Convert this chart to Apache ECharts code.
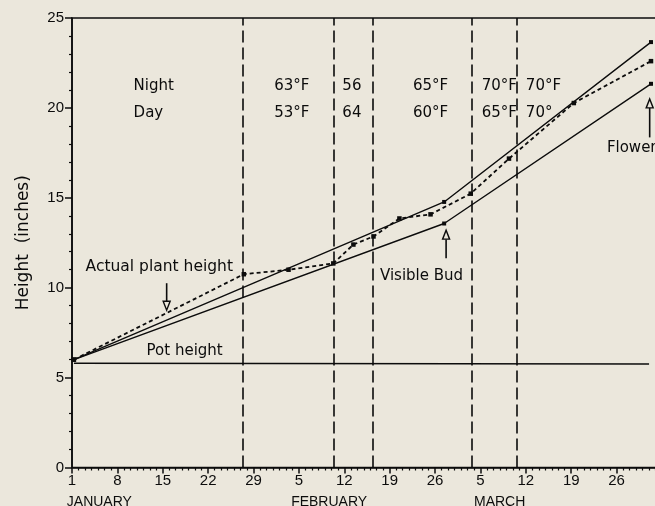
<!DOCTYPE html>
<html>
<head>
<meta charset="utf-8">
<script src="https://cdn.jsdelivr.net/npm/echarts@6/dist/echarts.min.js"></script>
<style>
  html, body { margin: 0; padding: 0; background: #ebe7dc; overflow: hidden; }
  /* the original figure is cropped on the right, so the chart runs past the window */
  #chart { width: 665px; height: 506px; }
</style>
</head>
<body>
<div id="chart"></div>
<script>
// x values are days counted from January 1 (day 0)
var tickDays = [0, 7, 14, 21, 28, 35, 42, 49, 56, 63, 70, 77, 84];
var tickLabels = ['1', '8', '15', '22', '29', '5', '12', '19', '26', '5', '12', '19', '26'];
var monthNames = ['JANUARY', 'FEBRUARY', 'MARCH'];
var monthDays = [-0.8, 33.8, 62];

var actualDays = [0.3, 26.5, 33.4, 40.3, 43.4, 46.5, 50.5, 55.3, 61.5, 67.4, 77.4, 89.3];
var actualHeight = [6.0, 10.75, 11.0, 11.35, 12.4, 12.85, 13.85, 14.08, 15.23, 17.18, 20.27, 22.6];
var upperDays = [0.3, 57.4, 89.3];
var upperHeight = [6.0, 14.77, 23.66];
var lowerDays = [0.3, 57.4, 89.3];
var lowerHeight = [6.0, 13.57, 21.34];
var potDays = [0.3, 89];
var potHeight = [5.8, 5.75];

// temperature regime changes
var changeDays = [26.4, 40.4, 46.4, 61.6, 68.6];
var tempLabelDays = [9.5, 31.2, 41.7, 52.6, 63.2, 70.0];
var nightTemps = ['Night', '63°F', '56', '65°F', '70°F', '70°F'];
var dayTemps = ['Day', '53°F', '64', '60°F', '65°F', '70°'];

var ink = '#0c0c0c';
var paper = '#ebe7dc';

function pairs(xs, ys) {
  return xs.map(function (x, i) { return [x, ys[i]]; });
}

var chart = echarts.init(document.getElementById('chart'));

chart.setOption({
  backgroundColor: paper,
  animation: false,
  grid: {
    left: 72, right: 1.5, top: 18, bottom: 38.5,
    show: true, borderColor: ink, borderWidth: 1.5, backgroundColor: 'transparent'
  },
  xAxis: {
    type: 'value', min: 0, max: 91, interval: 7,
    axisLine: { lineStyle: { color: ink, width: 1.6 } },
    axisTick: { length: 6, lineStyle: { color: ink, width: 1.5 } },
    minorTick: { show: true, splitNumber: 7, length: 3, lineStyle: { color: ink, width: 1.2 } },
    splitLine: { show: false },
    axisLabel: {
      color: ink, fontFamily: 'Liberation Sans', fontSize: 15, margin: 6,
      formatter: function (v) {
        var i = tickDays.indexOf(v);
        return i < 0 ? '' : tickLabels[i];
      }
    }
  },
  yAxis: {
    type: 'value', min: 0, max: 25, interval: 5,
    name: 'Height  (inches)', nameLocation: 'middle', nameGap: 40,
    nameTextStyle: { color: ink, fontFamily: 'DejaVu Sans', fontSize: 17 },
    axisLine: { lineStyle: { color: ink, width: 1.6 } },
    axisTick: { length: 7, lineStyle: { color: ink, width: 1.5 } },
    minorTick: { show: true, splitNumber: 5, length: 3, lineStyle: { color: ink, width: 1.2 } },
    splitLine: { show: false },
    axisLabel: { color: ink, fontFamily: 'Liberation Sans', fontSize: 15, margin: 8 }
  },
  series: [
    {
      name: 'Pot height', type: 'line', data: pairs(potDays, potHeight),
      symbol: 'none', lineStyle: { color: ink, width: 1.5 },
      markLine: {
        silent: true, symbol: 'none', label: { show: false },
        lineStyle: { color: ink, width: 1.6, type: [12, 5] },
        data: changeDays.map(function (d) { return { xAxis: d }; })
      }
    },
    {
      name: 'Upper', type: 'line', data: pairs(upperDays, upperHeight),
      symbol: 'rect', symbolSize: 4, itemStyle: { color: ink },
      lineStyle: { color: ink, width: 1.4 }
    },
    {
      name: 'Lower', type: 'line', data: pairs(lowerDays, lowerHeight),
      symbol: 'rect', symbolSize: 4, itemStyle: { color: ink },
      lineStyle: { color: ink, width: 1.4 }
    },
    {
      name: 'Actual plant height', type: 'line', data: pairs(actualDays, actualHeight),
      symbol: 'rect', symbolSize: 4.5, itemStyle: { color: ink },
      lineStyle: { color: ink, width: 1.8, type: [4, 3] }
    }
  ]
});

function px(d, v) { return chart.convertToPixel({ gridIndex: 0 }, [d, v]); }

var font15 = '15px "DejaVu Sans"';
var graphics = [];

function text(str, d, v, align, font) {
  var p = px(d, v);
  graphics.push({
    type: 'text', x: p[0], y: p[1], silent: true,
    style: { text: str, font: font || font15, fill: ink, textAlign: align || 'left', textVerticalAlign: 'middle' }
  });
}

function arrow(d, vFrom, vTip) {
  var a = px(d, vFrom), b = px(d, vTip);
  var dir = b[1] > a[1] ? 1 : -1;
  var baseY = b[1] - dir * 9;
  graphics.push({
    type: 'line', silent: true,
    shape: { x1: a[0], y1: a[1], x2: a[0], y2: baseY },
    style: { stroke: ink, lineWidth: 1.6 }
  });
  graphics.push({
    type: 'polygon', silent: true,
    shape: { points: [[b[0] - 3.5, baseY], [b[0] + 3.5, baseY], [b[0], b[1]]] },
    style: { fill: paper, stroke: ink, lineWidth: 1.4 }
  });
}

tempLabelDays.forEach(function (d, i) {
  text(nightTemps[i], d, 21.2);
  text(dayTemps[i], d, 19.7);
});

text('Actual plant height', 2.1, 11.15, 'left', '15.5px "DejaVu Sans"');
text('Pot height', 11.5, 6.45);
text('Visible Bud', 47.5, 10.65);
text('Flower', 82.5, 17.75);

arrow(14.6, 10.25, 8.75);
arrow(57.7, 11.64, 13.2);
arrow(89.1, 18.36, 20.5);

var base = px(0, 0)[1];
monthDays.forEach(function (d, i) {
  var p = px(d, 0);
  graphics.push({
    type: 'text', x: p[0], y: base + 28, silent: true,
    style: { text: monthNames[i], font: '14px "Liberation Sans"', fill: ink, textAlign: 'left', textVerticalAlign: 'top' }
  });
});

chart.setOption({ graphic: graphics });
</script>
</body>
</html>
